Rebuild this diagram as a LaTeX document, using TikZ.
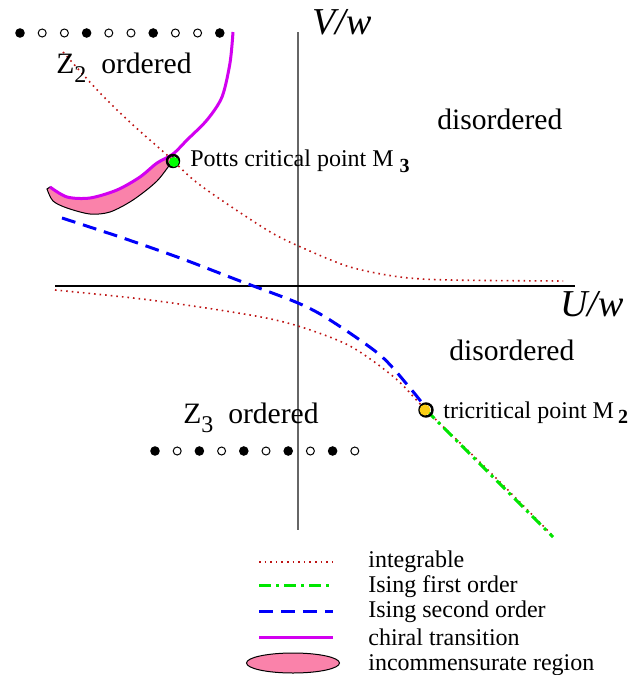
\documentclass[tikz,border=0pt]{standalone}
\usepackage{fontspec}
\setmainfont{Liberation Serif}
\usepackage{tikz}
\usetikzlibrary{positioning}

\definecolor{intred}{RGB}{190,20,20}
\definecolor{chiral}{RGB}{210,0,240}
\definecolor{incpink}{RGB}{250,130,170}
\definecolor{ising1}{RGB}{0,230,0}
\definecolor{ising2}{RGB}{0,0,250}
\definecolor{tripoint}{RGB}{250,205,20}

\begin{document}
\begin{tikzpicture}[
    x=0.5pt, y=-0.5pt,
    every node/.style={inner sep=0pt, font=\fontsize{12}{14}\selectfont},
    region/.style={font=\fontsize{14.8}{17}\selectfont},
    axlabel/.style={font=\fontsize{19}{22}\selectfont\itshape},
    integrable/.style={intred, line width=0.8pt, dotted},
    isingfirst/.style={ising1, line width=1.5pt, dash pattern=on 6pt off 2.5pt on 1.5pt off 2.5pt},
    isingsecond/.style={ising2, line width=1.5pt, dash pattern=on 7pt off 4pt},
    chiralline/.style={chiral, line width=1.5pt},
    incregion/.style={fill=incpink, draw=black, line width=0.5pt},
    fulldot/.style={fill=black},
    opendot/.style={draw=black, fill=white, line width=0.5pt},
  ]
  \useasboundingbox (0,0) rectangle (639,675);

  % ── Axes ─────────────────────────────────────────────────────────────────
  \coordinate (Vtop) at (298,32);
  \coordinate (Vbot) at (298,530);
  \coordinate (Uleft) at (55,286);
  \coordinate (Uright) at (575,286);
  \draw[gray!80!black, line width=0.6pt] (Vtop) -- (Vbot);
  \draw[black, line width=0.6pt] (Uleft) -- (Uright);
  \node[axlabel] (Vlab) at (342,22) {V/w};
  \node[axlabel] (Ulab) at (592,304) {U/w};

  % ── Incommensurate region ────────────────────────────────────────────────
  \draw[incregion] plot[smooth] coordinates {(173,156) (157,163) (140,177) (117,190) (90,198) (67,197) (50,187)}
    -- plot[smooth] coordinates {(47,189) (53,201) (67,208) (90,214) (110,212) (133,200) (157,181) (173,160)} -- cycle;

  % ── Integrable lines ─────────────────────────────────────────────────────
  \draw[integrable] plot[smooth] coordinates {(63,52) (100,93) (133,125) (167,155) (200,185) (267,230) (303,248) (350,267) (400,277) (450,280) (563,281)};
  \draw[integrable] plot[smooth] coordinates {(55,290) (150,300) (250,315) (298,326) (350,346) (395,378) (426,410) (490,472) (553,536)};

  % ── Ising lines ──────────────────────────────────────────────────────────
  \draw[isingsecond] plot[smooth] coordinates {(62,218) (120,237) (180,258) (240,281) (298,303) (330,320) (380,355) (410,388) (426,408)};
  \draw[isingfirst] (426,410) -- (553,537);

  % ── Chiral transition ────────────────────────────────────────────────────
  \draw[chiralline] plot[smooth] coordinates {(233,32) (230,63) (222,97) (207,120) (187,140) (173,154) (157,163) (140,177) (117,190) (90,198) (67,197) (50,187)};

  % ── Multicritical points ─────────────────────────────────────────────────
  \draw[black, line width=1.2pt] (173,161) circle (6);
  \fill[green] (174,162) circle (5);
  \draw[black, line width=1.2pt] (426,410) circle (6.5);
  \fill[tripoint] (425,410) circle (5.5);
  \node[anchor=base west] (Potts) at (190,166) {Potts critical point M \raisebox{-0.6ex}{\fontsize{10}{12}\selectfont\bfseries 3}};
  \node[anchor=base west] (Tri) at (443,418) {tricritical point M\,\raisebox{-0.5ex}{\fontsize{10}{12}\selectfont\bfseries 2}};

  % ── Phases ───────────────────────────────────────────────────────────────
  \node[region, anchor=base west] (Ztwo) at (56,73) {Z\raisebox{-0.7ex}{\fontsize{12}{14}\selectfont 2}\ \ ordered};
  \node[region, anchor=base west] (Zthree) at (183,423) {Z\raisebox{-0.7ex}{\fontsize{12}{14}\selectfont 3}\ \ ordered};
  \node[region, anchor=base west] (disUp) at (437,129) {disordered};
  \node[region, anchor=base west] (disLow) at (449,360) {disordered};

  % top row of sites (Z2)
  \foreach \i/\s/\r in {0/fulldot/4.8,1/opendot/4,2/opendot/4,3/fulldot/4.8,4/opendot/4,5/opendot/4,6/fulldot/4.8,7/opendot/4,8/opendot/4,9/fulldot/4.8}
    \path[\s] (20+22.2*\i,33) circle (\r);
  % bottom row of sites (Z3)
  \foreach \i/\s/\r in {0/fulldot/4.8,1/opendot/4,2/fulldot/4.8,3/opendot/4,4/fulldot/4.8,5/opendot/4,6/fulldot/4.8,7/opendot/4,8/fulldot/4.8,9/opendot/4}
    \path[\s] (155+22.2*\i,451) circle (\r);

  % ── Legend ───────────────────────────────────────────────────────────────
  \coordinate (la) at (259,562);  \coordinate (lb) at (333,562);
  \coordinate (lc) at (259,585);  \coordinate (ld) at (333,585);
  \coordinate (le) at (259,611);  \coordinate (lf) at (333,611);
  \coordinate (lg) at (259,637);  \coordinate (lh) at (333,637);
  \draw[integrable] (la) -- (lb);
  \draw[isingfirst] (lc) -- (ld);
  \draw[isingsecond] (le) -- (lf);
  \draw[chiralline] (lg) -- (lh);
  \draw[incregion] (293,663) ellipse (46.5 and 10);
  \node[anchor=base west] (legInt) at (368,567) {integrable};
  \node[anchor=base west] (legIF) at (368,592) {Ising first order};
  \node[anchor=base west] (legIS) at (368,617) {Ising second order};
  \node[anchor=base west] (legCh) at (368,645) {chiral transition};
  \node[anchor=base west] (legInc) at (368,670) {incommensurate region};

  \end{tikzpicture}
\end{document}
